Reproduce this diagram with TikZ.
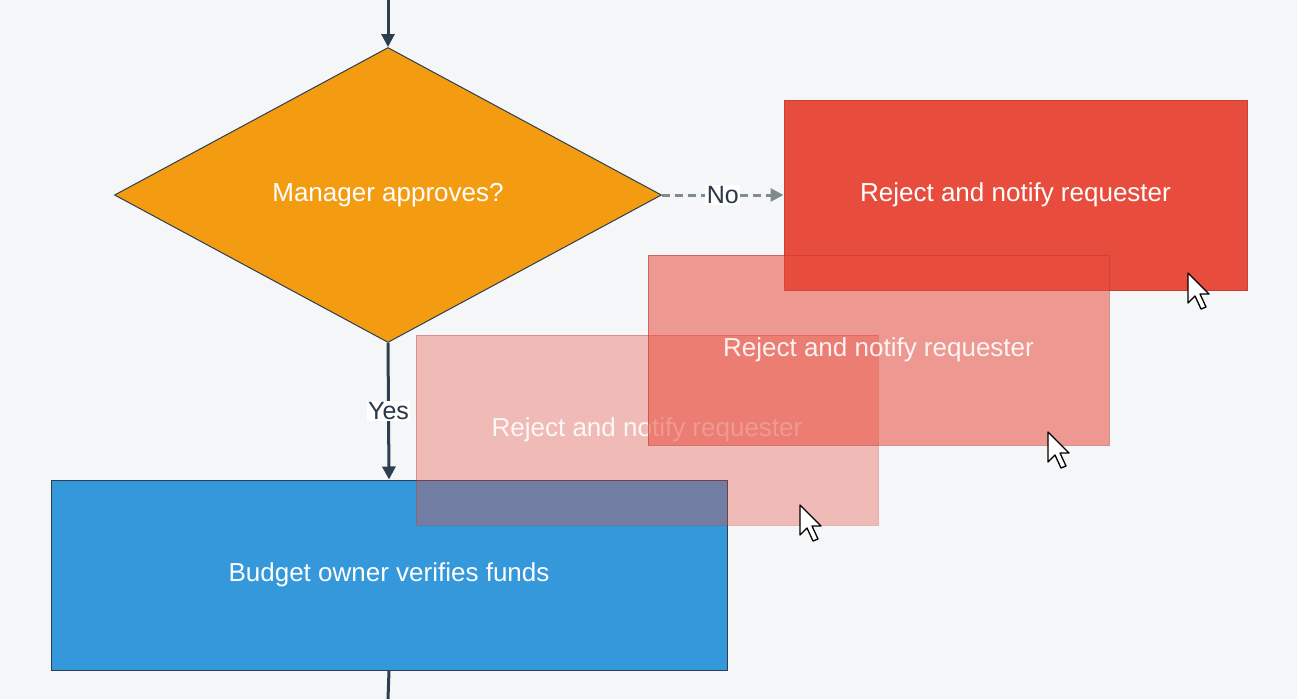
\documentclass[tikz,border=0pt]{standalone}
\usepackage{fontspec}
\setmainfont{Liberation Sans}
\usetikzlibrary{shapes.geometric, arrows.meta}
\definecolor{bgc}{HTML}{F5F6F8}
\definecolor{ink}{HTML}{2C3E50}
\definecolor{decide}{HTML}{F39C12}
\definecolor{reject}{HTML}{E74C3C}
\definecolor{budget}{HTML}{3498DB}
\definecolor{nopath}{HTML}{7F8C8D}
\newcommand{\mousepointer}[1]{%
    \draw[fill=white, draw=black, line width=1.3pt, line join=round, shift={(#1)}]
        (0,0) -- (0,30) -- (7,23) -- (13,36) -- (18,34) -- (12,21) -- (21,21) -- cycle;
}
\begin{document}
\begin{tikzpicture}[x=1pt, y=-1pt, >={Triangle[length=13pt, width=13pt]}]
            \tikzset{
                lbl/.style={font=\fontsize{26}{30}\selectfont, text=white},
                box/.style={rectangle, draw=ink, line width=1pt, lbl},
                ghost/.style={rectangle, fill=reject, draw=reject!80!black, line width=1pt, lbl},
                tag/.style={fill=white, inner sep=1.5pt, text=ink!90!black, font=\fontsize{25}{30}\selectfont}
            };
            \fill[bgc] (0,0) rectangle (1297,699);
            \useasboundingbox (0,0) rectangle (1297,699);
            \coordinate (top) at (388,0);
            \coordinate (bottom) at (388,699);
            \node[diamond, aspect=1.85, draw=ink, line width=1pt, fill=decide, lbl, minimum width=547pt, minimum height=295pt, inner sep=0pt] (approve) at (388,195) {Manager approves?};
            \node[box, fill=budget, minimum width=676pt, minimum height=190pt] (verify) at (389,575) {Budget owner verifies funds};
            \node[box, fill=reject, draw=reject!85!black, minimum width=463pt, minimum height=190pt] (notify) at (1015.5,195) {Reject and notify requester};
            \node[ghost, fill opacity=0.35, draw opacity=0.35, text opacity=0.9, minimum width=462pt, minimum height=190pt] (ghostb) at (647,430) {Reject and notify requester};
            \node[ghost, fill opacity=0.55, draw opacity=0.55, text opacity=0.9, minimum width=461pt, minimum height=190pt] (ghosta) at (878.5,350) {Reject and notify requester};
            \draw[->, ink, line width=3pt] (top) -- (approve.north);
            \draw[->, ink, line width=3pt] (approve.south) -- node[tag, pos=0.5] {Yes} (verify.north);
            \draw[->, nopath, line width=3pt, dash pattern=on 8pt off 5pt] (approve.east) -- node[tag, pos=0.5] {No} (notify.west);
            \draw[ink, line width=3pt] (verify.south) -- (bottom);
            \mousepointer{1188,273}
            \mousepointer{1048,432}
            \mousepointer{800,505}
        \end{tikzpicture}
\end{document}
